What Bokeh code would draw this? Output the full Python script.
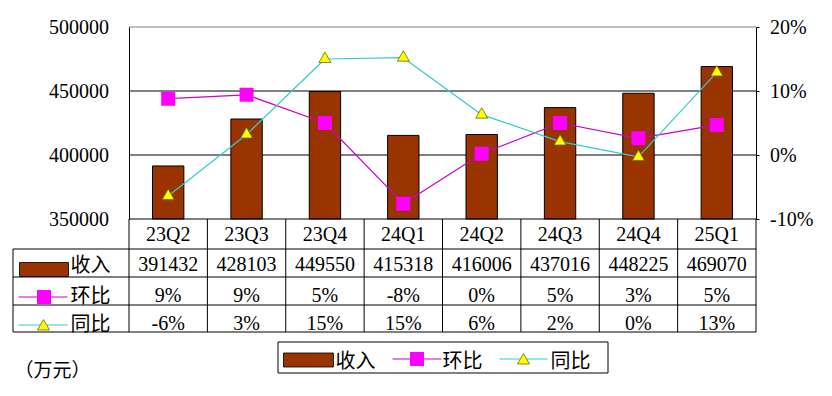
from bokeh.plotting import figure
from bokeh.models import Range1d, LinearAxis, FixedTicker, PrintfTickFormatter, ColumnDataSource
from bokeh.core.properties import value
from bokeh.embed import file_html
from bokeh.resources import INLINE

# ---------------- data ----------------
categories = ["23Q2", "23Q3", "23Q4", "24Q1", "24Q2", "24Q3", "24Q4", "25Q1"]
revenue = [391432, 428103, 449550, 415318, 416006, 437016, 448225, 469070]
qoq = [8.8, 9.4, 5.0, -7.6, 0.2, 5.0, 2.6, 4.7]      # 环比 (%)
yoy = [-6.4, 3.2, 15.0, 15.2, 6.3, 2.1, -0.3, 12.9]  # 同比 (%)
left_ticks = [350000, 400000, 450000, 500000]
right_ticks = [-10, 0, 10, 20]
series_names = ["收入", "环比", "同比"]
unit_label = "（万元）"

# ---------------- layout (px, measured from page point (8, 8)) ----------------
OFF = 8
W, H = 824, 388
PL, PR = 120.5, 747.5
PT, PB = 18.5, 210.5
n = len(categories)
CW = (PR - PL) / n

BAR_COLOR = "#993300"
QOQ_LINE, QOQ_MARK = "#CC00CC", "#FF00FF"
YOY_LINE, YOY_MARK, YOY_EDGE = "#33CCCC", "#FFFF00", "#6B6B00"
NUM_FONT = value("Liberation Serif")
CJK_FONT = value("Noto Sans CJK SC")

lo, hi = left_ticks[0], left_ticks[-1]
upp = (hi - lo) / (PB - PT)
plo, phi = right_ticks[0], right_ticks[-1]
ppu = (phi - plo) / (PB - PT)

x_range = Range1d(-0.5 - (PL + OFF) / CW, -0.5 + (W - OFF - PL) / CW)
y_range = Range1d(hi - (H - OFF - PT) * upp, hi + (PT + OFF) * upp)

p = figure(width=W, height=H, x_range=x_range, y_range=y_range,
           x_axis_type=None, y_axis_type=None, toolbar_location=None,
           output_backend="svg", min_border=0, outline_line_color=None,
           background_fill_color="white", border_fill_color="white")
p.extra_y_ranges = {"pct": Range1d(phi - (H - OFF - PT) * ppu, phi + (PT + OFF) * ppu),
                    "tbl": Range1d(H - OFF, -OFF)}
p.extra_x_ranges = {"px": Range1d(-OFF, W - OFF)}

src = ColumnDataSource(dict(
    x=list(range(n)), cat=categories, rev=revenue, qoq=qoq, yoy=yoy,
    rev_txt=[str(v) for v in revenue],
    qoq_txt=[f"{round(v)}%" for v in qoq],
    yoy_txt=[f"{round(v)}%" for v in yoy],
))

# grid lines and top border of the plot area
p.segment(x0=-0.5, x1=n - 0.5, y0=left_ticks[1:-1], y1=left_ticks[1:-1],
          line_color="black", line_width=1)
p.segment(x0=[-0.5], x1=[n - 0.5], y0=[hi], y1=[hi], line_color="#808080", line_width=1)

# bars
p.vbar(x="x", top="rev", bottom=lo, width=0.4, fill_color=BAR_COLOR,
       line_color="black", line_width=1, source=src)

# lines
p.line("x", "qoq", y_range_name="pct", line_color=QOQ_LINE, line_width=1.2, source=src)
p.scatter("x", "qoq", y_range_name="pct", marker="square", size=14,
          fill_color=QOQ_MARK, line_color=None, source=src)
p.line("x", "yoy", y_range_name="pct", line_color=YOY_LINE, line_width=1.2, source=src)
p.scatter("x", "yoy", y_range_name="pct", marker="triangle", size=12,
          fill_color=YOY_MARK, line_color=YOY_EDGE, line_width=0.8, source=src)

# axes
ax_l = LinearAxis(fixed_location=-0.5, bounds=(lo, hi),
                  ticker=FixedTicker(ticks=left_ticks),
                  formatter=PrintfTickFormatter(format="%d"),
                  major_tick_out=0, major_tick_in=0, minor_tick_line_color=None,
                  major_label_standoff=20, axis_line_color="black",
                  major_label_text_font="Liberation Serif",
                  major_label_text_font_size="20px", major_label_text_color="black")
p.add_layout(ax_l, "left")
ax_r = LinearAxis(y_range_name="pct", fixed_location=n - 0.5, bounds=(plo, phi),
                  ticker=FixedTicker(ticks=right_ticks),
                  formatter=PrintfTickFormatter(format="%d%%"),
                  major_tick_out=3, major_tick_in=0, minor_tick_line_color=None,
                  major_label_standoff=11, axis_line_color="black",
                  major_tick_line_color="black",
                  major_label_text_font="Liberation Serif",
                  major_label_text_font_size="20px", major_label_text_color="black")
p.add_layout(ax_r, "right")

# ---------------- data table ----------------
rows_y = [210.5, 240.5, 268.5, 296.5, 323.5]
TL = 4.5
tbl = dict(x_range_name="px", y_range_name="tbl", line_color="black", line_width=1)
p.segment(x0=[PL], x1=[PR], y0=[rows_y[0]], y1=[rows_y[0]], **tbl)
p.segment(x0=TL, x1=PR, y0=rows_y[1:], y1=rows_y[1:], **tbl)
p.segment(x0=[PL + k * CW for k in range(n + 1)], x1=[PL + k * CW for k in range(n + 1)],
          y0=rows_y[0], y1=rows_y[-1], **tbl)
p.segment(x0=[TL], x1=[TL], y0=[rows_y[1]], y1=[rows_y[-1]], **tbl)

num_txt = dict(y_range_name="tbl", text_font=NUM_FONT, text_font_size="20px",
               text_align="center", text_baseline="middle", text_color="black", source=src)
p.text(x="x", y=225, text="cat", **num_txt)
p.text(x="x", y=255, text="rev_txt", **num_txt)
p.text(x="x", y=286, text="qoq_txt", **num_txt)
p.text(x="x", y=314, text="yoy_txt", **num_txt)

cjk = dict(x_range_name="px", y_range_name="tbl", text_font=CJK_FONT,
           text_font_size="20px", text_align="left", text_baseline="middle",
           text_color="black")
p.text(x=[62, 62, 62], y=[255, 286, 313.5], text=series_names, **cjk)

pxr = dict(x_range_name="px", y_range_name="tbl")
# row-label icons
p.quad(left=[11], right=[60], top=[254], bottom=[268], fill_color=BAR_COLOR,
       line_color="black", line_width=0.8, **pxr)
p.segment(x0=[10], x1=[59], y0=[288.5], y1=[288.5], line_color=QOQ_LINE, line_width=1.2, **pxr)
p.scatter(x=[35.5], y=[288.5], marker="square", size=14, fill_color=QOQ_MARK, line_color=None, **pxr)
p.segment(x0=[10], x1=[59], y0=[316.5], y1=[316.5], line_color=YOY_LINE, line_width=1.2, **pxr)
p.scatter(x=[35], y=[318], marker="triangle", size=12, fill_color=YOY_MARK,
          line_color=YOY_EDGE, line_width=0.8, **pxr)

# ---------------- legend ----------------
p.quad(left=[269.5], right=[599.5], top=[333.5], bottom=[364.5], fill_color="white",
       line_color="black", line_width=1, **pxr)
p.quad(left=[275], right=[325], top=[344.5], bottom=[358.5], fill_color=BAR_COLOR,
       line_color="black", line_width=0.8, **pxr)
p.segment(x0=[384], x1=[433], y0=[350.5], y1=[350.5], line_color=QOQ_LINE, line_width=1.2, **pxr)
p.scatter(x=[408.5], y=[350.5], marker="square", size=14, fill_color=QOQ_MARK, line_color=None, **pxr)
p.segment(x0=[491], x1=[539], y0=[350.5], y1=[350.5], line_color=YOY_LINE, line_width=1.2, **pxr)
p.scatter(x=[515], y=[352], marker="triangle", size=12, fill_color=YOY_MARK,
          line_color=YOY_EDGE, line_width=0.8, **pxr)
p.text(x=[327, 434, 542], y=[350.5, 350.5, 350.5], text=series_names, **cjk)

# unit label
p.text(x=[6], y=[360], text=[unit_label], x_range_name="px", y_range_name="tbl",
       text_font=CJK_FONT, text_font_size="19px", text_align="left",
       text_baseline="middle", text_color="black")

open("out.html", "w").write(file_html(p, INLINE))
